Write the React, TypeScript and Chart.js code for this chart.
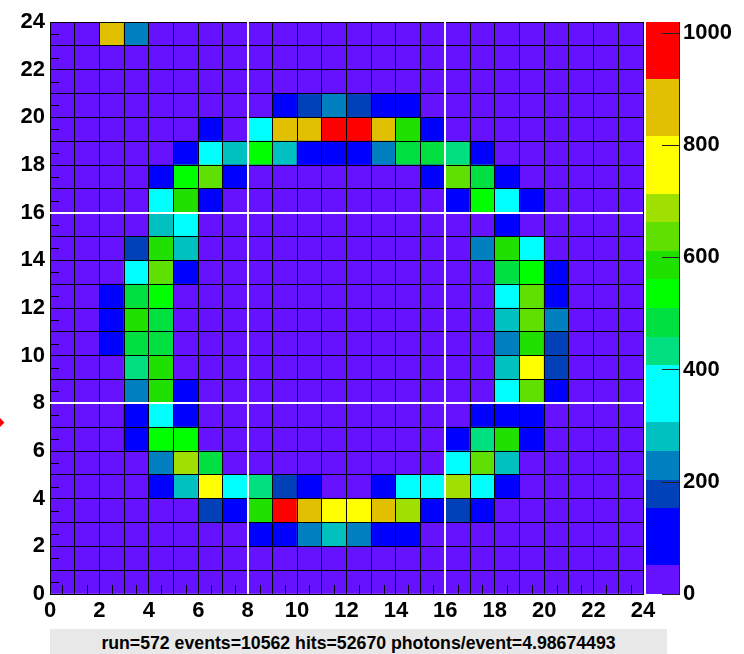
import React, { useEffect, useRef } from 'react';
import { Chart, registerables } from 'chart.js';

Chart.register(...registerables);

// ---- data ----
const X_MIN = 0;
const X_MAX = 24;
const Y_MIN = 0;
const Y_MAX = 24;
const Z_MAX = 1019;
const Z_LEVELS = 20;
const zTickValues = [0, 200, 400, 600, 800, 1000];
const dividerValues = [8, 16];
const statsLine = 'run=572 events=10562 hits=52670 photons/event=4.98674493';

// photon counts per pixel; first row is y = 23 (top), last row is y = 0
const counts: number[][] = [
  [20, 20, 860, 230, 20, 20, 20, 20, 20, 20, 20, 20, 20, 20, 20, 20, 20, 20, 20, 20, 20, 20, 20, 20],
  [20, 20, 20, 20, 20, 20, 20, 20, 20, 20, 20, 20, 20, 20, 20, 20, 20, 20, 20, 20, 20, 20, 20, 20],
  [20, 20, 20, 20, 20, 20, 20, 20, 20, 20, 20, 20, 20, 20, 20, 20, 20, 20, 20, 20, 20, 20, 20, 20],
  [20, 20, 20, 20, 20, 20, 20, 20, 20, 110, 180, 230, 180, 110, 110, 20, 20, 20, 20, 20, 20, 20, 20, 20],
  [20, 20, 20, 20, 20, 20, 110, 20, 360, 860, 860, 960, 960, 860, 585, 110, 20, 20, 20, 20, 20, 20, 20, 20],
  [20, 20, 20, 20, 20, 110, 360, 280, 535, 280, 110, 110, 110, 230, 480, 480, 430, 110, 20, 20, 20, 20, 20, 20],
  [20, 20, 20, 20, 110, 535, 635, 110, 20, 20, 20, 20, 20, 20, 20, 110, 635, 480, 110, 20, 20, 20, 20, 20],
  [20, 20, 20, 20, 360, 585, 110, 20, 20, 20, 20, 20, 20, 20, 20, 20, 110, 535, 360, 110, 20, 20, 20, 20],
  [20, 20, 20, 20, 280, 360, 20, 20, 20, 20, 20, 20, 20, 20, 20, 20, 20, 20, 110, 20, 20, 20, 20, 20],
  [20, 20, 20, 180, 585, 280, 20, 20, 20, 20, 20, 20, 20, 20, 20, 20, 20, 230, 585, 360, 20, 20, 20, 20],
  [20, 20, 20, 360, 635, 110, 20, 20, 20, 20, 20, 20, 20, 20, 20, 20, 20, 20, 480, 535, 110, 20, 20, 20],
  [20, 20, 110, 480, 535, 20, 20, 20, 20, 20, 20, 20, 20, 20, 20, 20, 20, 20, 360, 635, 110, 20, 20, 20],
  [20, 20, 110, 585, 480, 20, 20, 20, 20, 20, 20, 20, 20, 20, 20, 20, 20, 20, 280, 635, 230, 20, 20, 20],
  [20, 20, 110, 480, 480, 20, 20, 20, 20, 20, 20, 20, 20, 20, 20, 20, 20, 20, 230, 585, 180, 20, 20, 20],
  [20, 20, 20, 430, 585, 20, 20, 20, 20, 20, 20, 20, 20, 20, 20, 20, 20, 20, 280, 760, 180, 20, 20, 20],
  [20, 20, 20, 230, 585, 110, 20, 20, 20, 20, 20, 20, 20, 20, 20, 20, 20, 20, 360, 635, 110, 20, 20, 20],
  [20, 20, 20, 110, 360, 110, 20, 20, 20, 20, 20, 20, 20, 20, 20, 20, 20, 110, 110, 110, 20, 20, 20, 20],
  [20, 20, 20, 110, 535, 535, 20, 20, 20, 20, 20, 20, 20, 20, 20, 20, 110, 430, 585, 110, 20, 20, 20, 20],
  [20, 20, 20, 20, 230, 690, 480, 20, 20, 20, 20, 20, 20, 20, 20, 20, 360, 635, 280, 20, 20, 20, 20, 20],
  [20, 20, 20, 20, 110, 280, 760, 360, 430, 180, 110, 20, 20, 110, 360, 360, 690, 360, 110, 20, 20, 20, 20, 20],
  [20, 20, 20, 20, 20, 20, 180, 110, 585, 960, 860, 760, 760, 860, 690, 110, 180, 110, 20, 20, 20, 20, 20, 20],
  [20, 20, 20, 20, 20, 20, 20, 20, 110, 110, 230, 280, 230, 110, 110, 20, 20, 20, 20, 20, 20, 20, 20, 20],
  [20, 20, 20, 20, 20, 20, 20, 20, 20, 20, 20, 20, 20, 20, 20, 20, 20, 20, 20, 20, 20, 20, 20, 20],
  [20, 20, 20, 20, 20, 20, 20, 20, 20, 20, 20, 20, 20, 20, 20, 20, 20, 20, 20, 20, 20, 20, 20, 20],
];

// ---- styles ----
const paletteColors = [
  '#6612ff', '#0000ff', '#0000ff', '#0040b8', '#0080c0',
  '#00c0c0', '#00ffff', '#00ffff', '#00e080', '#00e040',
  '#00ff00', '#20e000', '#60e000', '#a0e000', '#ffff00',
  '#ffff00', '#e0c000', '#e0c000', '#ff0000', '#ff0000',
];
const FONT_FAMILY = "'Liberation Sans', Arial, Helvetica, sans-serif";
const tickFont = { family: FONT_FAMILY, size: 22, weight: 'bold' as const };

function colorFor(v: number): string {
  const step = Z_MAX / Z_LEVELS;
  const i = Math.min(Z_LEVELS - 1, Math.max(0, Math.floor(v / step)));
  return paletteColors[i];
}

const heatDecor = {
  id: 'heatDecor',
  afterDraw(chart: any) {
    const { ctx, chartArea: a, scales } = chart;
    const xs = scales.x;
    const ys = scales.y;
    const zs = scales.z;
    ctx.save();

    // small inner tick marks at bin centres
    ctx.strokeStyle = '#000';
    ctx.lineWidth = 1;
    ctx.beginPath();
    for (let i = X_MIN; i < X_MAX; i++) {
      const px = Math.round(xs.getPixelForValue(i + 0.5)) + 0.5;
      ctx.moveTo(px, a.bottom);
      ctx.lineTo(px, a.bottom - 9);
    }
    for (let j = Y_MIN; j < Y_MAX; j++) {
      const py = Math.round(ys.getPixelForValue(j + 0.5)) + 0.5;
      ctx.moveTo(a.left, py);
      ctx.lineTo(a.left + 9, py);
    }
    ctx.stroke();

    // white divider lines
    ctx.strokeStyle = '#ffffff';
    ctx.lineWidth = 2;
    ctx.beginPath();
    for (const d of dividerValues) {
      const px = Math.round(xs.getPixelForValue(d));
      ctx.moveTo(px, a.top);
      ctx.lineTo(px, a.bottom);
      const py = Math.round(ys.getPixelForValue(d));
      ctx.moveTo(a.left, py);
      ctx.lineTo(a.right, py);
    }
    ctx.stroke();

    // colour bar
    const step = Z_MAX / Z_LEVELS;
    const bx0 = Math.round(a.right + 3);
    const bx1 = Math.round(a.right + 36);
    for (let i = 0; i < Z_LEVELS; i++) {
      const y0 = Math.round(zs.getPixelForValue(i * step));
      const y1 = Math.round(zs.getPixelForValue((i + 1) * step));
      ctx.fillStyle = paletteColors[i];
      ctx.fillRect(bx0, y1, bx1 - bx0, y0 - y1);
    }
    ctx.strokeStyle = '#222';
    ctx.lineWidth = 1;
    ctx.beginPath();
    ctx.moveTo(bx1 + 0.5, Math.round(zs.getPixelForValue(Z_MAX)));
    ctx.lineTo(bx1 + 0.5, Math.round(zs.getPixelForValue(0)));
    for (const t of zTickValues) {
      const py = Math.round(zs.getPixelForValue(t)) + 0.5;
      ctx.moveTo(bx1 - 17, py);
      ctx.lineTo(bx1 + 1, py);
    }
    ctx.stroke();
    ctx.restore();
  },
};

export default function App() {
  const canvasRef = useRef<HTMLCanvasElement | null>(null);

  useEffect(() => {
    const canvas = canvasRef.current;
    if (!canvas) return;

    const cells: any[] = [];
    counts.forEach((row, r) => {
      const yLow = Y_MAX - 1 - r;
      row.forEach((v, xi) => {
        cells.push({ x: X_MIN + xi + 0.5, y: [yLow, yLow + 1], v });
      });
    });

    const evenLabel = (val: any) => (Number(val) % 2 === 0 ? String(val) : '');

    const chart = new Chart(canvas, {
      type: 'bar',
      data: {
        datasets: [
          {
            data: cells,
            backgroundColor: (c: any) => colorFor(c.raw ? c.raw.v : 0),
            borderWidth: 0,
            borderSkipped: false,
            barPercentage: 1,
            categoryPercentage: 1,
          } as any,
        ],
      },
      options: {
        animation: false,
        responsive: false,
        devicePixelRatio: 1,
        layout: { padding: { top: 22, left: 0, right: 0, bottom: 0 } },
        plugins: { legend: { display: false }, tooltip: { enabled: false } },
        scales: {
          x: {
            type: 'linear',
            min: X_MIN,
            max: X_MAX,
            offset: false,
            grid: { offset: false, color: '#000', lineWidth: 1, drawTicks: false, z: 1 },
            border: { display: true, color: '#000', width: 1, z: 2 },
            ticks: {
              stepSize: 1,
              autoSkip: false,
              maxRotation: 0,
              padding: 4,
              color: '#000',
              font: tickFont,
              callback: evenLabel,
            },
            afterFit: (s: any) => {
              s.height = 60;
            },
          },
          y: {
            type: 'linear',
            min: Y_MIN,
            max: Y_MAX,
            grid: { color: '#000', lineWidth: 1, drawTicks: false, z: 1 },
            border: { display: true, color: '#000', width: 1, z: 2 },
            ticks: {
              stepSize: 1,
              autoSkip: false,
              padding: 5,
              color: '#000',
              font: tickFont,
              callback: evenLabel,
            },
            afterFit: (s: any) => {
              s.width = 50;
            },
          },
          z: {
            type: 'linear',
            position: 'right',
            min: 0,
            max: Z_MAX,
            grid: { display: true, drawOnChartArea: false, drawTicks: true, tickLength: 40, color: 'rgba(0,0,0,0)' },
            border: { display: false },
            ticks: {
              padding: 0,
              color: '#000',
              font: tickFont,
              callback: (v: any) => String(v),
            },
            afterBuildTicks: (s: any) => {
              s.ticks = zTickValues.map((v) => ({ value: v }));
            },
            afterFit: (s: any) => {
              s.width = 101;
            },
          },
        },
      } as any,
      plugins: [heatDecor],
    });

    return () => {
      chart.destroy();
    };
  }, []);

  return (
    <div style={{ position: 'absolute', left: 0, top: 0, width: 744, height: 654, background: '#fff', overflow: 'hidden' }}>
      <canvas ref={canvasRef} width={744} height={654} style={{ display: 'block' }} />
      <div
        style={{
          position: 'absolute',
          left: -4,
          top: 419,
          width: 7,
          height: 7,
          background: '#ff0000',
          transform: 'rotate(45deg)',
        }}
      />
      <div
        style={{
          position: 'absolute',
          left: 50,
          top: 629,
          width: 617,
          height: 25,
          background: '#e8e8e8',
          color: '#000',
          fontFamily: FONT_FAMILY,
          fontWeight: 'bold',
          fontSize: 17.7,
          lineHeight: '29px',
          textAlign: 'center',
          whiteSpace: 'nowrap',
          letterSpacing: '0px',
          overflow: 'hidden',
        }}
      >
        {statsLine}
      </div>
    </div>
  );
}
